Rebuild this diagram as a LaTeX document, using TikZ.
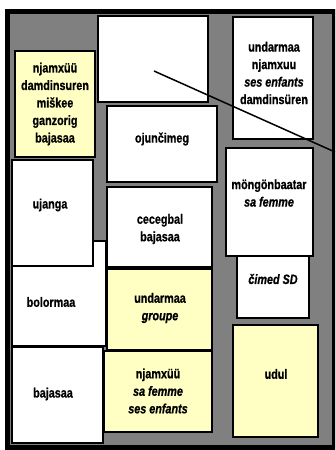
\documentclass[tikz,border=0pt]{standalone}
\usepackage{fontspec}
\setmainfont{Liberation Sans}[FakeStretch=0.8,BoldFeatures={FakeBold=0.8},BoldItalicFeatures={FakeBold=0.8}]
\definecolor{bggray}{RGB}{128,128,128}
\definecolor{boxyellow}{RGB}{255,255,196}
\tikzset{
  box/.style={draw=black, line width=1.3pt, fill=white},
  ybox/.style={box, fill=boxyellow},
  txt/.style={font=\bfseries\fontsize{13.5}{17.5}\selectfont, align=center, inner sep=0pt},
}
\begin{document}
\begin{tikzpicture}[x=1pt,y=-1pt]
\useasboundingbox (0,0) rectangle (335,450);
\begin{scope}
\clip (0,0) rectangle (335,450);
% frame
\fill[bggray] (5,9) rectangle (340,452);
\draw[line width=5pt] (7.5,11.5) rectangle (334.5,447.5);
% boxes
\path[box]  (98,16) rectangle (208,102);
\path[box]  (233,17) rectangle (313,139);
\path[ybox] (15,51) rectangle (95,157);
\path[box]  (107,106) rectangle (217,182);
\path[box]  (107,187) rectangle (212,267);
\path[box]  (12,241) rectangle (106,346);
\path[box]  (12,160) rectangle (93,266);
\path[ybox] (107,269) rectangle (212,350);
\path[ybox] (104,351) rectangle (212,432);
\path[box]  (12,347) rectangle (103,443);
\path[box]  (226,148) rectangle (313,256);
\path[box]  (237,256) rectangle (309,318);
\path[ybox] (233,325) rectangle (318,437);
% texts
\node[txt] (t1) at (55,104) {njamxüü\\damdinsuren\\miškee\\ganzorig\\bajasaa};
\node[txt] (t3) at (274,73) {undarmaa\\njamxuu\\\textit{ses enfants}\\damdinsüren};
\node[txt] (t4) at (162,139) {ojunčimeg};
\node[txt] (t5) at (160,229) {cecegbal\\bajasaa};
\node[txt] (t6) at (50,205) {ujanga};
\node[txt] (t7) at (51,302) {bolormaa};
\node[txt] (t8) at (160,308) {undarmaa\\\textit{groupe}};
\node[txt] (t9) at (158,391) {njamxüü\\\textit{sa femme}\\\textit{ses enfants}};
\node[txt] (t10) at (53,394) {bajasaa};
\node[txt] (t11) at (269,193) {möngönbaatar\\\textit{sa femme}};
\node[txt] (t12) at (273,279) {\textit{čimed SD}};
\node[txt] (t13) at (276,374) {udul};
% diagonal line
\coordinate (d1) at (154,71);
\coordinate (d2) at (335,152);
\draw[line width=1.5pt] (d1) -- (d2);
\end{scope}
\end{tikzpicture}
\end{document}
